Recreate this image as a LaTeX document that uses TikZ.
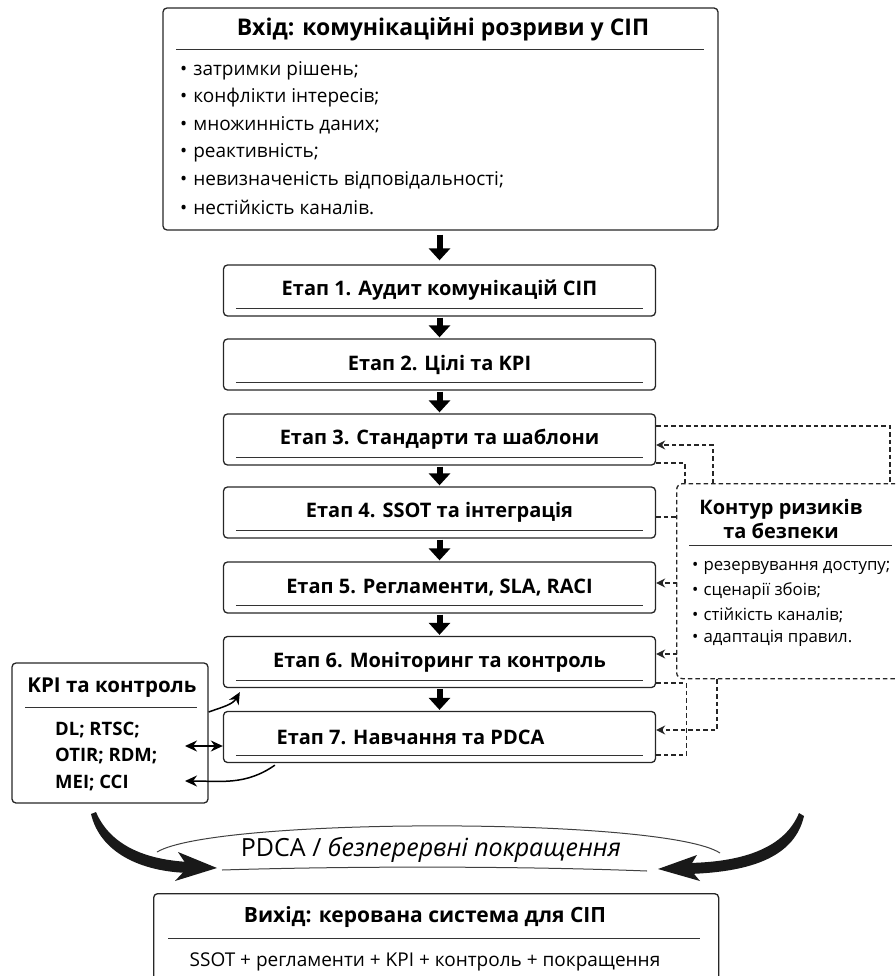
\documentclass[tikz,border=0pt]{standalone}
\usepackage{fontspec}
\setmainfont{Open Sans}
\usetikzlibrary{arrows.meta}

\newcommand{\setfs}[2]{\fontsize{#1}{#2}\selectfont}

\begin{document}
\begin{tikzpicture}[x=1pt,y=-1pt,
  box/.style={draw=black!85, line width=1.3pt, rounded corners=4pt},
  stagebox/.style={box, minimum width=432pt, minimum height=51pt, inner sep=0pt, font=\bfseries\setfs{20}{24}},
  rule/.style={draw=black!80, line width=1pt},
  flow/.style={line width=6pt, -{Triangle[width=21pt,length=12pt]}, shorten <=1pt, shorten >=1pt},
  link/.style={line width=1.5pt, -{Stealth[length=12pt,width=11pt]}},
  risklink/.style={draw=black!85, line width=1.3pt, dash pattern=on 4.5pt off 3pt},
  riskarrow/.style={risklink, -{Stealth[length=9pt,width=9pt]}},
  item/.style={anchor=west, inner sep=0pt, font=\setfs{19}{22}},
]
\useasboundingbox (0,0) rectangle (895,976);
\clip (0,0) rectangle (895,976);

% input
\node[box, minimum width=555pt, minimum height=222pt] (in) at (440.5,119) {};
\node[font=\bfseries\setfs{23}{27}] (intitle) at (443,29) {Вхід: комунікаційні розриви у СІП};
\draw[rule] (176,50) -- (704,50);
\foreach \t [count=\k] in {затримки рішень;, конфлікти інтересів;, множинність даних;, реактивність;, невизначеність відповідальності;, нестійкість каналів.}{
  \node[item] (inb\k) at (180,43+27.4*\k) {\textbullet\hspace{6pt}\t};
}

% stages
\foreach \i/\t/\y in {1/Аудит комунікацій СІП/290.5, 2/Цілі та KPI/364.5, 3/Стандарти та шаблони/439.5, 4/SSOT та інтеграція/512.5, 5/{Регламенти, SLA, RACI}/587.5, 6/Моніторинг та контроль/662}{
  \node[stagebox] (s\i) at (439.5,\y) {Етап \i. \t};
}
\node[stagebox] (s7) at (439.5,737) {\hspace*{-58pt}Етап 7. Навчання та PDCA};
\foreach \i in {1,...,7}{
  \draw[rule] ([xshift=13pt,yshift=8pt]s\i.south west) -- ([xshift=-13pt,yshift=8pt]s\i.south east);
}

\draw[flow, shorten <=4pt, shorten >=4pt] (s1.north |- in.south) -- (s1.north);
\foreach \a/\b in {s1/s2, s2/s3, s3/s4, s4/s5, s5/s6, s6/s7}{
  \draw[flow] (\a) -- (\b);
}

% risk contour
\node[risklink, rounded corners=6pt, minimum width=240pt, minimum height=195pt, anchor=north west] (risk) at (676,483) {};
\node[font=\bfseries\setfs{20}{24}, align=center] (risktitle) at (781,519) {Контур ризиків\\та безпеки};
\draw[rule] (689,545) -- (892,545);
\foreach \t [count=\k] in {резервування доступу;, сценарії збоів;, стійкість каналів;, адаптація правил.}{
  \node[item, font=\setfs{16.8}{20}] (rb\k) at (692,544.5+23.5*\k) {\textbullet\hspace{5pt}\t};
}

\coordinate (loopR) at (890,483);
\draw[risklink] ([yshift=13.5pt]s3.east) -| (loopR);
\draw[riskarrow] ([xshift=37pt]risk.north west) |- ([yshift=-5.5pt]s3.east);
\draw[risklink] ([yshift=-23.5pt]s3.east) -| ([xshift=9pt]risk.north west);
\draw[risklink] ([yshift=-4.5pt]s4.east) -- ([xshift=21pt,yshift=-4.5pt]s4.east);
\draw[riskarrow] ([xshift=21pt,yshift=4.5pt]s5.east) -- ([yshift=4.5pt]s5.east);
\draw[riskarrow] ([xshift=21pt,yshift=8pt]s6.east) -- ([yshift=8pt]s6.east);
\draw[risklink] ([yshift=-21pt]s6.east) -- ++(30,0) |- ([yshift=-18pt]s7.east);
\draw[riskarrow] ([xshift=41pt]risk.south west) |- ([yshift=7pt]s7.east);

% KPI
\node[box, minimum width=196pt, minimum height=140pt] (kpi) at (110,733) {};
\node[font=\bfseries\setfs{20.5}{24}] (kpititle) at (112,688) {KPI та контроль};
\draw[rule] (25,707) -- (197,707);
\foreach \t [count=\k] in {DL; RTSC;, OTIR; RDM;, MEI; CCI}{
  \node[item, font=\bfseries\setfs{18.5}{22}] (kl\k) at (55,703+26.5*\k) {\t};
}
\coordinate (kpiB) at (185,746);
\coordinate (kpiC) at (185,781);
\draw[link] ([yshift=21pt]kpi.east) to[out=20,in=-120] ([xshift=17pt,yshift=-4pt]s6.south west);
\draw[link, {Stealth[length=12pt,width=11pt]}-{Stealth[length=12pt,width=11pt]}] (kpiB) -- (s7.west |- kpiB);
\draw[link] ([xshift=52pt,yshift=-2pt]s7.south west) to[out=-145,in=0] (kpiC);

% PDCA
\node[font=\setfs{25}{29}] (pdca) at (431,850) {PDCA / \textit{безперервні покращення}};
\draw[line width=1pt, black!75] (157,852) .. controls (215,817) and (665,817) .. (720,853);
\draw[line width=1pt, black!75] (222,870) .. controls (350,866) and (520,866) .. (647,871);
\fill[black!90] (91,814) .. controls (100,852) and (140,872) .. (190,873)
  -- (190,862) .. controls (145,860) and (110,845) .. (96,812) -- cycle;
\fill[black!90] (217,868) -- (175,881) -- (188,867) -- (178,852) -- cycle;
\fill[black!90] (804,816) .. controls (795,855) and (755,872) .. (688,874)
  -- (688,863) .. controls (745,862) and (785,847) .. (799,813) -- cycle;
\fill[black!90] (658,869) -- (700,881) -- (689,868) -- (697,855) -- cycle;

% output
\node[box, minimum width=565pt, minimum height=100pt, anchor=north west] (out) at (153,893) {};
\node[font=\bfseries\setfs{21}{25}] (outtitle) at (425,917) {Вихід: керована система для СІП};
\draw[rule] (168,938) -- (700,938);
\node[font=\setfs{19}{23}] (outtext) at (425,962) {SSOT + регламенти + KPI + контроль + покращення};
\end{tikzpicture}
\end{document}
